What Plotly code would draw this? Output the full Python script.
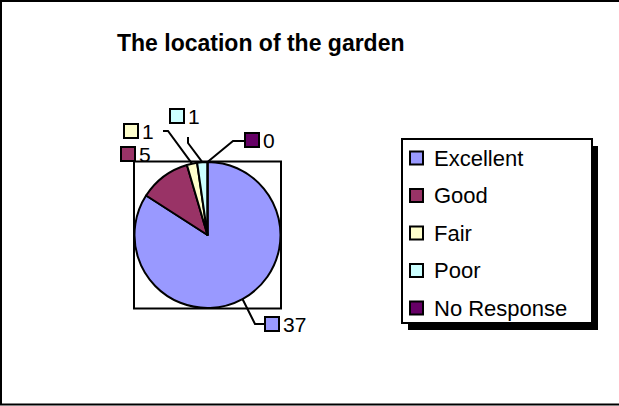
import math

import plotly.graph_objs as go

W, H = 619, 406

# data
labels = ["Excellent", "Good", "Fair", "Poor", "No Response"]
values = [37, 5, 1, 1, 0]
colors = ["#9999FF", "#993366", "#FFFFCC", "#CCFFFF", "#660066"]
title_text = "The location of the garden"

FONT = "Liberation Sans, Arial, sans-serif"

# pie geometry (pixels)
CX, CY, R = 207.5, 235.0, 73.0

# label placement: square left/top, then elbow points of the leader line
label_box = [(265, 317), (121, 147), (124, 124), (170, 109), (245, 133)]
leader_pts = [
    [(255, 324), (265, 324)],
    None,
    [(168, 131), (163, 131)],
    [(188, 143), (188, 137)],
    [(233, 141), (245, 141)],
]


def px(x):
    return x / W


def py(y):
    return 1 - y / H


fig = go.Figure()

fig.add_trace(
    go.Pie(
        labels=labels,
        values=values,
        sort=False,
        direction="clockwise",
        rotation=0,
        textinfo="none",
        hoverinfo="label+value",
        marker=dict(colors=colors, line=dict(color="black", width=2)),
        domain=dict(x=[px(CX - R), px(CX + R)], y=[py(CY + R), py(CY - R)]),
        showlegend=False,
    )
)

shapes = []
annotations = []

# outer chart border
shapes.append(
    dict(type="rect", xref="paper", yref="paper", x0=px(1), x1=px(W + 3),
         y0=py(404.5), y1=py(1), line=dict(color="black", width=2))
)
# plot area box
shapes.append(
    dict(type="rect", xref="paper", yref="paper", x0=px(CX - R - 0.5), x1=px(CX + R + 0.5),
         y0=py(CY + R + 0.5), y1=py(CY - R - 0.5), line=dict(color="black", width=2))
)

# data labels with leader lines
total = sum(values)
cum = 0
for i, v in enumerate(values):
    theta = math.radians((cum + v / 2) / total * 360)
    cum += v
    ex, ey = CX + R * math.sin(theta), CY - R * math.cos(theta)
    if leader_pts[i]:
        path = f"M {px(ex)},{py(ey)}"
        for (lx, ly) in leader_pts[i]:
            path += f" L {px(lx)},{py(ly)}"
        shapes.append(dict(type="path", xref="paper", yref="paper", path=path,
                           line=dict(color="black", width=2)))
    bx, by = label_box[i]
    shapes.append(
        dict(type="rect", xref="paper", yref="paper", x0=px(bx), x1=px(bx + 14),
             y0=py(by + 14), y1=py(by), fillcolor=colors[i],
             line=dict(color="black", width=2))
    )
    annotations.append(
        dict(text=str(v), xref="paper", yref="paper", x=px(bx + 16), y=py(by + 7),
             xanchor="left", yanchor="middle", showarrow=False,
             font=dict(family=FONT, size=21, color="black"))
    )

# legend (manual, Excel style with shadow)
LX0, LX1, LY0, LY1 = 402, 592, 139, 323
shapes.append(
    dict(type="rect", xref="paper", yref="paper", x0=px(LX0 + 6), x1=px(LX1 + 6),
         y0=py(LY1 + 7), y1=py(LY0 + 7), fillcolor="black", line=dict(width=0))
)
shapes.append(
    dict(type="rect", xref="paper", yref="paper", x0=px(LX0), x1=px(LX1),
         y0=py(LY1), y1=py(LY0), fillcolor="white", line=dict(color="black", width=2))
)
for i, name in enumerate(labels):
    yc = 158 + i * 37.5
    shapes.append(
        dict(type="rect", xref="paper", yref="paper", x0=px(410), x1=px(423),
             y0=py(yc + 6.5), y1=py(yc - 6.5), fillcolor=colors[i],
             line=dict(color="black", width=2))
    )
    annotations.append(
        dict(text=name, xref="paper", yref="paper", x=px(432), y=py(yc),
             xanchor="left", yanchor="middle", showarrow=False,
             font=dict(family=FONT, size=22, color="black"))
    )

annotations.append(
    dict(text=f"<b>{title_text}</b>", xref="paper", yref="paper", x=px(261), y=py(43),
         xanchor="center", yanchor="middle", showarrow=False,
         font=dict(family=FONT, size=23, color="black"))
)

fig.update_layout(
    width=W,
    height=H,
    margin=dict(l=0, r=0, t=0, b=0),
    paper_bgcolor="white",
    plot_bgcolor="white",
    shapes=shapes,
    annotations=annotations,
    showlegend=False,
)

# drop the default page margin so the chart sits at the window's corner
fig.write_html(
    "out.html",
    config={"displayModeBar": False},
    post_script="document.body.style.margin='0';",
)
